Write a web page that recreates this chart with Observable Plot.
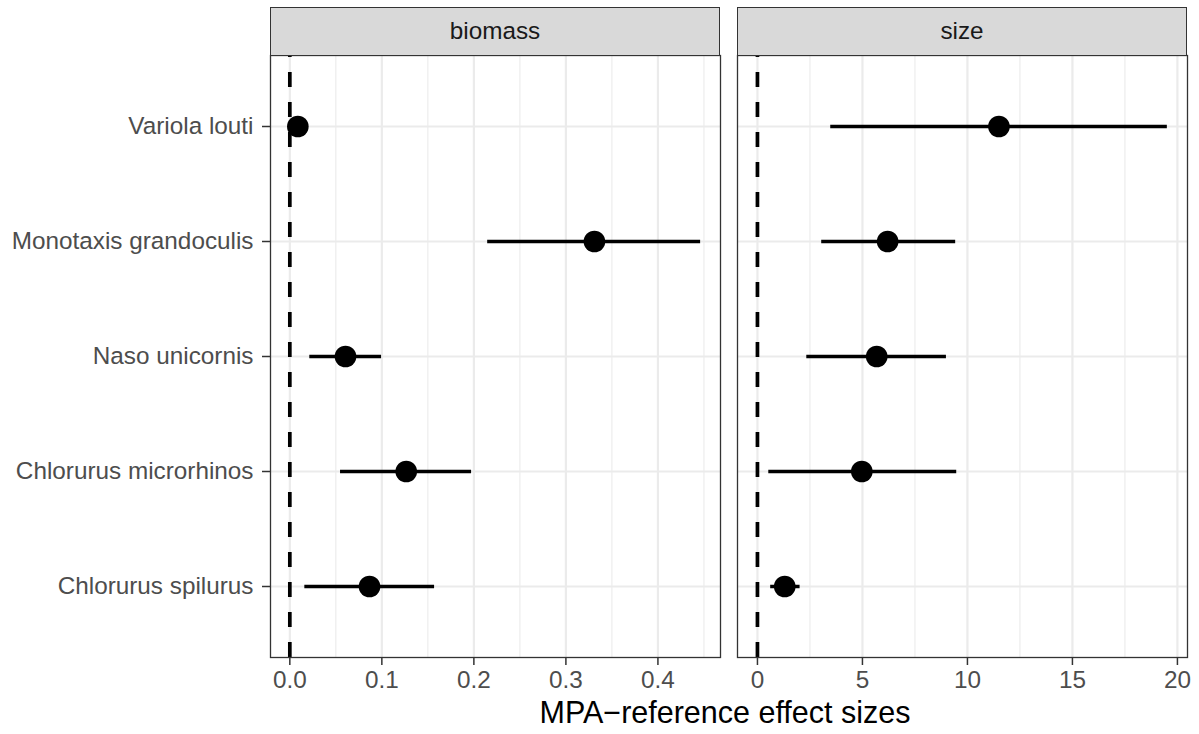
<!DOCTYPE html>
<html><head><meta charset="utf-8">
<script src="https://cdn.jsdelivr.net/npm/d3@7"></script>
<script src="https://cdn.jsdelivr.net/npm/@observablehq/plot@0.6"></script>
<style>
body{margin:0;background:#fff;font-family:"Liberation Sans",Arial,sans-serif;}
#wrap{position:relative;width:1199px;height:734px;overflow:hidden;background:#fff;}
.panel{position:absolute;top:0;}
.strip{position:absolute;top:7px;height:49px;background:#D9D9D9;border:1.3px solid #333;box-sizing:border-box;display:flex;align-items:center;justify-content:center;font-size:24.3px;color:#1A1A1A;line-height:1;}
#xtitle{position:absolute;left:270px;width:910px;top:700px;text-align:center;font-size:30.5px;line-height:0.8;color:#000;}
</style></head><body>
<div id="wrap"></div>
<script>
// ---- data ----
const species = ["Variola louti","Monotaxis grandoculis","Naso unicornis","Chlorurus microrhinos","Chlorurus spilurus"];
const facets = ["biomass","size"];
const biomassEst = [0.0087, 0.331, 0.0605, 0.1265, 0.0866];
const biomassLo  = [0.002, 0.215, 0.0217, 0.0551, 0.0163];
const biomassHi  = [0.016, 0.4464, 0.0997, 0.1975, 0.1573];
const sizeEst = [11.5, 6.2, 5.68, 4.97, 1.30];
const sizeLo  = [3.49, 3.06, 2.35, 0.54, 0.63];
const sizeHi  = [19.52, 9.44, 9.0, 9.49, 2.03];
const biomassTicks = [0, 0.1, 0.2, 0.3, 0.4];
const biomassMinor = [0.05, 0.15, 0.25, 0.35, 0.45];
const sizeTicks = [0, 5, 10, 15, 20];
const sizeMinor = [2.5, 7.5, 12.5, 17.5];
const biomassDomain = [-0.021, 0.468];
const sizeDomain = [-0.95, 20.48];
const refLine = [0];
const xTitle = "MPA\u2212reference effect sizes";

// ---- build ----
const font = "Liberation Sans, Arial, sans-serif";
const fs = 24.3;
function rows(est, lo, hi) {
  return species.map((s, i) => ({species: s, est: est[i], lo: lo[i], hi: hi[i]}));
}
function panel({data, domain, ticks, minor, fmt, width, ml, mr, showY}) {
  const marks = [
    Plot.ruleX(minor, {stroke: "#EBEBEB", strokeWidth: 1.1}),
    Plot.ruleX(ticks, {stroke: "#EBEBEB", strokeWidth: 2.2}),
    Plot.ruleY(species, {stroke: "#EBEBEB", strokeWidth: 2.2}),
    Plot.ruleX(refLine, {stroke: "#000", strokeWidth: 3.7, strokeDasharray: "15,15", strokeDashoffset: 13}),
    Plot.ruleY(data, {y: "species", x1: "lo", x2: "hi", stroke: "#000", strokeWidth: 3.5}),
    Plot.dot(data, {x: "est", y: "species", r: 10.8, fill: "#000", stroke: "none"}),
    Plot.frame({stroke: "#333", strokeWidth: 1.3}),
    Plot.axisX({ticks, tickFormat: fmt, tickSize: 8, tickPadding: 5, fontSize: fs,
      stroke: "#333", fill: "#4D4D4D", strokeWidth: 1.5, label: null})
  ];
  if (showY) marks.push(Plot.axisY({tickSize: 8, tickPadding: 9, fontSize: fs,
      stroke: "#333", fill: "#4D4D4D", strokeWidth: 1.5, label: null}));
  return Plot.plot({
    width, height: 734,
    marginLeft: ml, marginRight: mr, marginTop: 55, marginBottom: 77,
    style: {fontFamily: font, fontSize: fs + "px", background: "transparent", overflow: "visible"},
    x: {domain, label: null},
    y: {type: "point", domain: species, padding: 0.6, label: null, axis: showY ? undefined : null},
    marks
  });
}

const wrap = document.getElementById("wrap");
const p1 = panel({data: rows(biomassEst, biomassLo, biomassHi), domain: biomassDomain,
  ticks: biomassTicks, minor: biomassMinor, fmt: d3.format(".1f"), width: 728, ml: 270, mr: 8, showY: true});
const p2 = panel({data: rows(sizeEst, sizeLo, sizeHi), domain: sizeDomain,
  ticks: sizeTicks, minor: sizeMinor, fmt: d3.format("d"), width: 471, ml: 9, mr: 12, showY: false});
p1.classList.add("panel"); p1.style.left = "0px";
p2.classList.add("panel"); p2.style.left = "728px";
wrap.appendChild(p1); wrap.appendChild(p2);

const stripPos = [[270, 450], [737, 450]];
facets.forEach((f, i) => {
  const d = document.createElement("div");
  d.className = "strip";
  d.style.left = stripPos[i][0] + "px";
  d.style.width = stripPos[i][1] + "px";
  d.textContent = f;
  wrap.appendChild(d);
});
const t = document.createElement("div");
t.id = "xtitle";
t.textContent = xTitle;
wrap.appendChild(t);
</script>
</body></html>
